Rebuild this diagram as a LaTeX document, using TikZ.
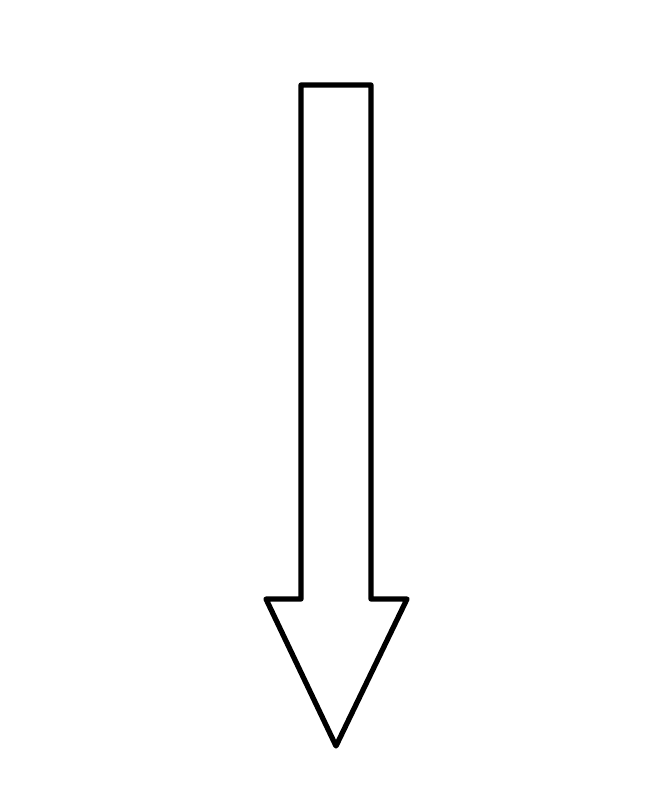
\documentclass[tikz,border=0pt]{standalone}
\begin{document}
\begin{tikzpicture}
[outlinedecorate/.style={draw,line width=3pt,line join=round},%
  x=0.02cm,y=-0.02cm]
\useasboundingbox (0,0) rectangle (658,786);
%% corners of the arrow
\foreach \pointname/\x/\y in {a/301/85, b/371/85, c/371/599, d/407/599,
  e/336/746, f/266/599, g/301/599} {
  \coordinate (\pointname) at (\x,\y);
}
%% outline
\draw[outlinedecorate] (a) -- (b) -- (c) -- (d) -- (e) -- (f) -- (g) -- cycle;
\end{tikzpicture}
\end{document}
